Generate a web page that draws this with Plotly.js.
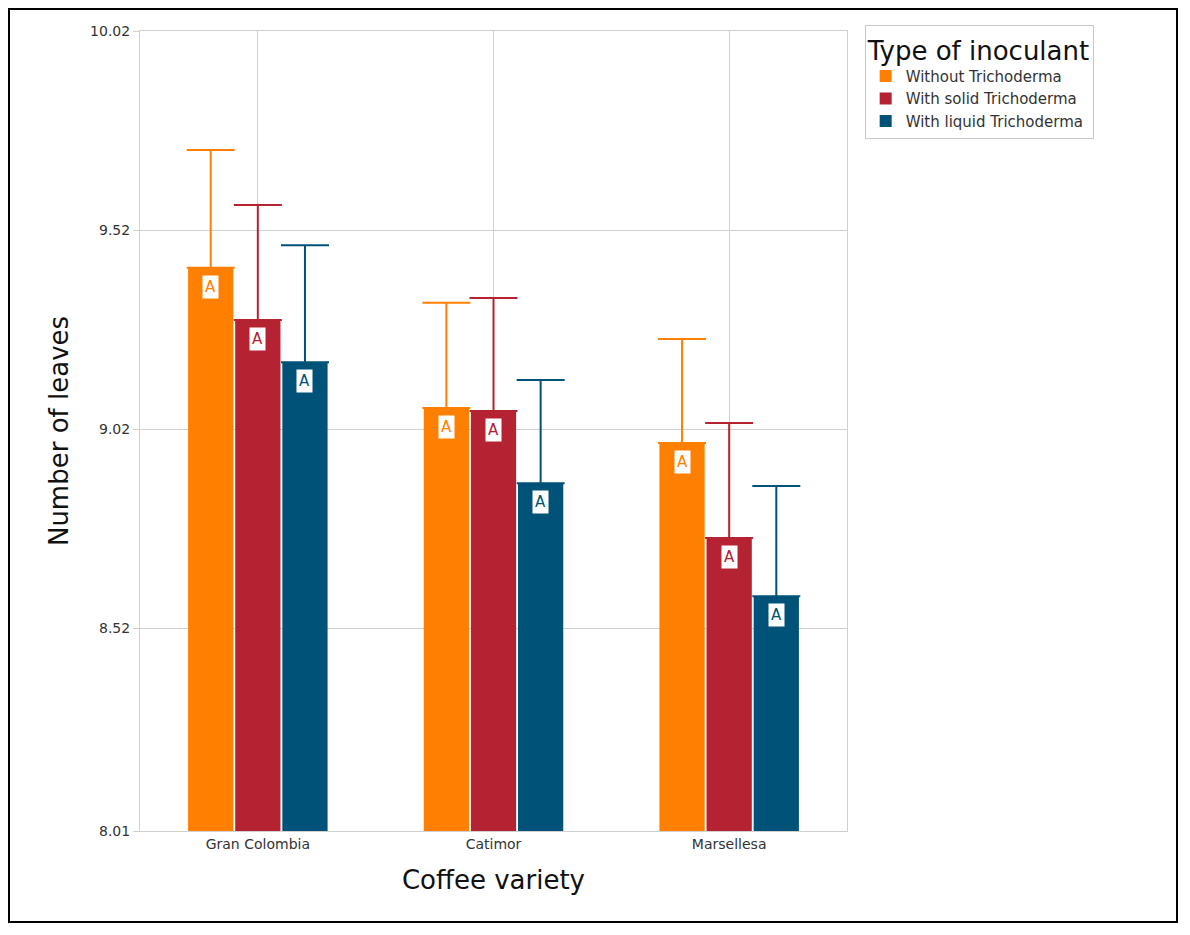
<!DOCTYPE html>
<html>
<head>
<script src="https://cdn.plot.ly/plotly-3.0.1.min.js"></script>
<style>
  body { margin: 0; background: #fff; }
  #frame { position: absolute; left: 8px; top: 8px; width: 1170px; height: 915px; border: 2px solid #000; box-sizing: border-box; pointer-events: none; z-index: 10; }
</style>
</head>
<body>
<div id="chart" style="width:1190px;height:935px;"></div>
<div id="frame"></div>
<script>
// values
var varieties = ['Gran Colombia', 'Catimor', 'Marsellesa']
var series = ['Without Trichoderma', 'With solid Trichoderma', 'With liquid Trichoderma']
var colors = ['#FF8000', '#B52231', '#005278']
var means = [
  [9.425, 9.073, 8.985],
  [9.294, 9.065, 8.746],
  [9.188, 8.884, 8.600]
]
var errors = [
  [0.296, 0.264, 0.261],
  [0.289, 0.284, 0.289],
  [0.294, 0.259, 0.277]
]
var letters = [
  ['A', 'A', 'A'],
  ['A', 'A', 'A'],
  ['A', 'A', 'A']
]
var yTicks = [8.01, 8.52, 9.02, 9.52, 10.02]

var xs = varieties.map((v, i) => i)
var data = series.map((name, k) => ({
  type: 'bar',
  name: name,
  x: xs,
  y: means[k],
  base: 8.01,
  marker: { color: colors[k] },
  error_y: { type: 'data', array: errors[k].map(e => e), arrayminus: errors[k].map(() => 0), symmetric: false,
             color: colors[k], thickness: 2, width: 24 }
}))
// bars are based at 8.01, so heights are offsets
data.forEach((t, k) => { t.y = means[k].map(v => v - 8.01) })

var annotations = []
series.forEach((s, k) => {
  varieties.forEach((v, i) => {
    annotations.push({
      x: i + (k - 1) * 0.2, y: means[k][i], xref: 'x', yref: 'y',
      text: letters[k][i], showarrow: false, yshift: -19,
      bgcolor: '#fff', borderpad: 2,
      font: { family: 'DejaVu Sans', size: 15, color: colors[k] }
    })
  })
})

var layout = {
  width: 1190, height: 935,
  margin: { l: 140, r: 343, t: 31, b: 104 },
  font: { family: 'DejaVu Sans', color: '#333' },
  paper_bgcolor: '#fff', plot_bgcolor: '#fff',
  barmode: 'group', bargap: 0.4, bargroupgap: 0.04,
  xaxis: {
    tickvals: xs, ticktext: varieties, range: [-0.5, 2.5],
    showgrid: true, gridcolor: '#d0d0d0', showline: true, linecolor: '#d0d0d0', mirror: true,
    tickfont: { size: 14, color: '#333' },
    title: { text: 'Coffee variety', font: { size: 26, color: '#111' }, standoff: 20 }
  },
  yaxis: {
    range: [8.01, 10.02], tickvals: yTicks, ticktext: yTicks.map(v => v.toFixed(2)),
    showgrid: true, gridcolor: '#d0d0d0', showline: true, linecolor: '#d0d0d0', mirror: true,
    ticks: 'outside', ticklen: 6, tickcolor: '#d0d0d0', zeroline: false,
    tickfont: { size: 14, color: '#333' },
    title: { text: 'Number of leaves', font: { size: 26, color: '#111' }, standoff: 14 }
  },
  legend: {
    x: 1.025, y: 1.0075, xanchor: 'left', yanchor: 'top',
    bordercolor: '#c8c8c8', borderwidth: 1, bgcolor: '#fff',
    font: { size: 15, color: '#333' },
    title: { text: 'Type of inoculant', font: { size: 26, color: '#111' } },
    traceorder: 'normal'
  },
  annotations: annotations
}

// hover labels should show the real mean
data.forEach((t, k) => { t.customdata = means[k]; t.hovertemplate = '%{customdata}<extra>' + t.name + '</extra>' })
// shift y values back through base
layout.yaxis.range = [8.01, 10.02]

Plotly.newPlot('chart', data, layout, { displayModeBar: false })
</script>
</body>
</html>
